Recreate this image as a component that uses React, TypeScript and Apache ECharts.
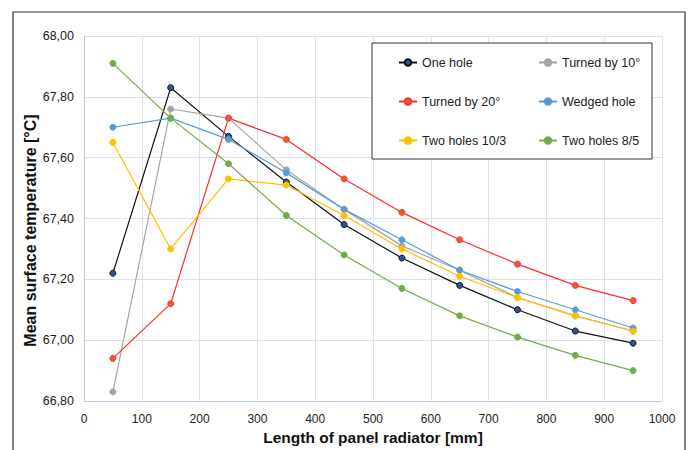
import React, { useEffect, useRef } from "react";
import * as echarts from "echarts";

const xValues = [50, 150, 250, 350, 450, 550, 650, 750, 850, 950];
const oneHole = [67.22, 67.83, 67.67, 67.52, 67.38, 67.27, 67.18, 67.1, 67.03, 66.99];
const turned10 = [66.83, 67.76, 67.73, 67.56, 67.43, 67.31, 67.23, 67.14, 67.08, 67.03];
const turned20 = [66.94, 67.12, 67.73, 67.66, 67.53, 67.42, 67.33, 67.25, 67.18, 67.13];
const wedged = [67.7, 67.73, 67.66, 67.55, 67.43, 67.33, 67.23, 67.16, 67.1, 67.04];
const twoHoles103 = [67.65, 67.3, 67.53, 67.51, 67.41, 67.3, 67.21, 67.14, 67.08, 67.03];
const twoHoles85 = [67.91, 67.73, 67.58, 67.41, 67.28, 67.17, 67.08, 67.01, 66.95, 66.9];

const seriesNames = ["One hole", "Turned by 10°", "Turned by 20°", "Wedged hole", "Two holes 10/3", "Two holes 8/5"];
const FONT = "'Liberation Sans', Arial, sans-serif";

export default function App() {
  const ref = useRef<HTMLDivElement>(null);
  useEffect(() => {
    if (!ref.current) return;
    const chart = echarts.init(ref.current, null, { renderer: "svg" });
    const mk = (
      name: string,
      vals: number[],
      lineColor: string,
      markerColor: string,
      borderColor: string
    ) => ({
      name,
      type: "line",
      data: xValues.map((x, i) => [x, vals[i]]),
      symbol: "circle",
      symbolSize: 6,
      lineStyle: { color: lineColor, width: 1.2 },
      itemStyle: { color: markerColor, borderColor, borderWidth: 1 },
      z: 3,
    });
    const legendText = { fontSize: 12.5, color: "#222", fontFamily: FONT };
    chart.setOption({
      animation: false,
      textStyle: { fontFamily: FONT },
      grid: { left: 84, right: 29, top: 36, bottom: 48 },
      graphic: [
        {
          type: "rect",
          shape: { x: 13, y: 12, width: 672, height: 460 },
          style: { fill: "none", stroke: "#333", lineWidth: 1.2 },
          z: 0,
        },
        {
          type: "rect",
          shape: { x: 372, y: 43, width: 280, height: 116 },
          style: { fill: "#fff", stroke: "#333", lineWidth: 1 },
          z: 5,
        },
      ],
      legend: [
        {
          data: [seriesNames[0], seriesNames[2], seriesNames[4]],
          orient: "vertical",
          left: 393,
          top: 51,
          itemGap: 26,
          itemWidth: 18,
          itemHeight: 8,
          textStyle: legendText,
          z: 6,
        },
        {
          data: [seriesNames[1], seriesNames[3], seriesNames[5]],
          orient: "vertical",
          left: 533,
          top: 51,
          itemGap: 26,
          itemWidth: 18,
          itemHeight: 8,
          textStyle: legendText,
          z: 6,
        },
      ],
      xAxis: {
        type: "value",
        min: 0,
        max: 1000,
        interval: 100,
        name: "Length of panel radiator [mm]",
        nameLocation: "middle",
        nameGap: 28,
        nameMoveOverlap: false,
        nameTextStyle: { fontSize: 15.5, fontWeight: "bold", color: "#111", fontFamily: FONT },
        axisLine: { show: true, lineStyle: { color: "#b8c9e0", width: 1 } },
        axisTick: { show: false },
        axisLabel: {
          fontSize: 12,
          color: "#222",
          margin: 12,
          fontFamily: FONT,
          formatter: (v: number) => String(v),
        },
        splitLine: { show: true, lineStyle: { color: "#dce2ea", width: 1 } },
      },
      yAxis: {
        type: "value",
        min: 66.8,
        max: 68,
        interval: 0.2,
        name: "Mean surface temperature [°C]",
        nameLocation: "middle",
        nameGap: 46,
        nameMoveOverlap: false,
        nameTextStyle: {
          fontSize: 16,
          fontWeight: "bold",
          color: "#111",
          fontFamily: FONT,
          padding: [0, 24, 0, 0],
        },
        axisLine: { show: true, lineStyle: { color: "#b8c9e0", width: 1 } },
        axisTick: { show: false },
        axisLabel: {
          fontSize: 12.5,
          color: "#222",
          margin: 10,
          fontFamily: FONT,
          formatter: (v: number) => v.toFixed(2).replace(".", ","),
        },
        splitLine: { show: true, lineStyle: { color: "#dce2ea", width: 1 } },
      },
      series: [
        mk(seriesNames[0], oneHole, "#111111", "#2f5597", "#111111"),
        mk(seriesNames[1], turned10, "#a5a5a5", "#a5a5a5", "#a5a5a5"),
        mk(seriesNames[2], turned20, "#ff2b2b", "#f4553a", "#e8402a"),
        mk(seriesNames[3], wedged, "#5b9bd5", "#5b9bd5", "#5b9bd5"),
        mk(seriesNames[4], twoHoles103, "#ffc000", "#ffc000", "#ffc000"),
        mk(seriesNames[5], twoHoles85, "#70ad47", "#70ad47", "#70ad47"),
      ],
    });
    return () => chart.dispose();
  }, []);
  return <div ref={ref} style={{ width: 691, height: 450, position: "absolute", left: 0, top: 0 }} />;
}
